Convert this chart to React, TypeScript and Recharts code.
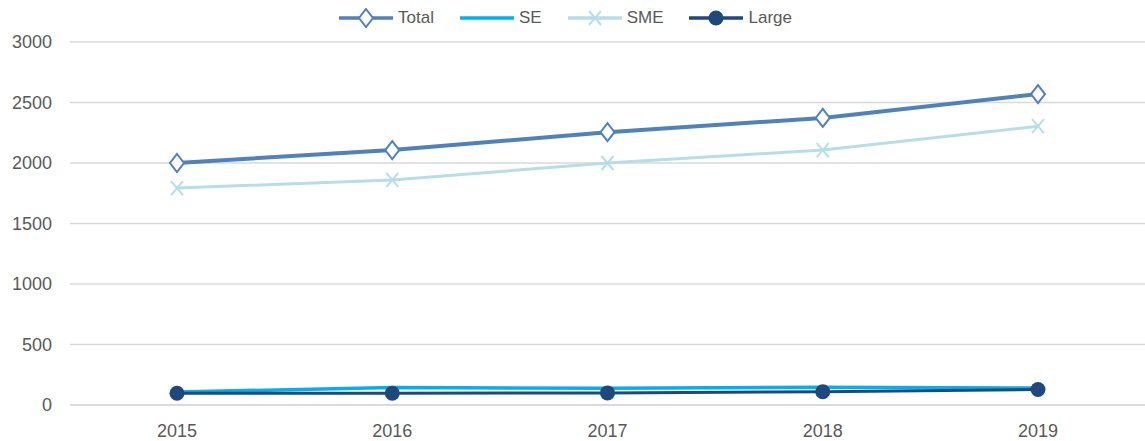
import { LineChart, Line, XAxis, YAxis, CartesianGrid, Legend } from 'recharts';

const years = ['2015', '2016', '2017', '2018', '2019'];
const total = [2000, 2107, 2255, 2372, 2570];
const se = [107, 145, 138, 146, 140];
const sme = [1793, 1860, 2000, 2107, 2304];
const large = [97, 97, 100, 110, 128];
const yTicks = [0, 500, 1000, 1500, 2000, 2500, 3000];

const data = years.map((year, i) => ({ year, total: total[i], se: se[i], sme: sme[i], large: large[i] }));

const FONT = "'Liberation Sans', Arial, sans-serif";
const TEXT = '#595959';

const C_TOTAL = '#4f81bd';
const C_SE = '#00b0f0';
const C_SME = '#b7dde8';
const C_LARGE = '#1f497d';

const Diamond = ({ cx, cy }: any) => (
    <path d={`M${cx},${cy - 9} L${cx + 7},${cy} L${cx},${cy + 9} L${cx - 7},${cy} Z`} fill="#fff" stroke={C_TOTAL} strokeWidth={2} />
);

const Cross = ({ cx, cy }: any) => (
    <path d={`M${cx - 6},${cy - 7} L${cx + 6},${cy + 7} M${cx + 6},${cy - 7} L${cx - 6},${cy + 7}`} stroke={C_SME} strokeWidth={2} fill="none" />
);

const Dot = ({ cx, cy }: any) => <circle cx={cx} cy={cy} r={7.5} fill={C_LARGE} />;

const legendItems = [
    { label: 'Total', color: C_TOTAL, marker: 'diamond' },
    { label: 'SE', color: C_SE, marker: 'none' },
    { label: 'SME', color: C_SME, marker: 'cross' },
    { label: 'Large', color: C_LARGE, marker: 'dot' },
];

function LegendContent() {
    return (
        <div style={{ display: 'flex', justifyContent: 'center', alignItems: 'center', height: 26, fontFamily: FONT, fontSize: 17, color: TEXT, paddingLeft: 8 }}>
            {legendItems.map((it) => (
                <div key={it.label} style={{ display: 'flex', alignItems: 'center', marginRight: 24 }}>
                    <svg width={58} height={20} style={{ marginRight: 3 }}>
                        <line x1={2} y1={10} x2={56} y2={10} stroke={it.color} strokeWidth={3.5} />
                        {it.marker === 'diamond' && <Diamond cx={29} cy={10} />}
                        {it.marker === 'cross' && <Cross cx={29} cy={10} />}
                        {it.marker === 'dot' && <Dot cx={29} cy={10} />}
                    </svg>
                    <span>{it.label}</span>
                </div>
            ))}
        </div>
    );
}

export default function App() {
    return (
        <div style={{ position: 'absolute', left: 0, top: 0, width: 1145, height: 441, background: '#fff' }}>
            <LineChart width={1145} height={441} data={data} margin={{ top: 5, right: 0, left: 0, bottom: 0 }}>
                <CartesianGrid vertical={false} stroke="#d9d9d9" strokeWidth={1.5} />
                <XAxis
                    dataKey="year"
                    padding={{ left: 107, right: 107 }}
                    axisLine={{ stroke: '#d9d9d9', strokeWidth: 1.5 }}
                    tickLine={false}
                    tickMargin={13}
                    height={36}
                    tick={{ fill: TEXT, fontSize: 18, fontFamily: FONT }}
                />
                <YAxis
                    domain={[0, 3000]}
                    ticks={yTicks}
                    width={70}
                    axisLine={false}
                    tickLine={false}
                    tickMargin={12}
                    tick={{ fill: TEXT, fontSize: 18, fontFamily: FONT }}
                />
                <Legend verticalAlign="top" height={37} content={<LegendContent />} />
                <Line dataKey="total" stroke={C_TOTAL} strokeWidth={4} dot={<Diamond />} isAnimationActive={false} />
                <Line dataKey="se" stroke={C_SE} strokeWidth={3.5} dot={false} isAnimationActive={false} />
                <Line dataKey="sme" stroke={C_SME} strokeWidth={3} dot={<Cross />} isAnimationActive={false} />
                <Line dataKey="large" stroke={C_LARGE} strokeWidth={3} dot={<Dot />} isAnimationActive={false} />
            </LineChart>
        </div>
    );
}
